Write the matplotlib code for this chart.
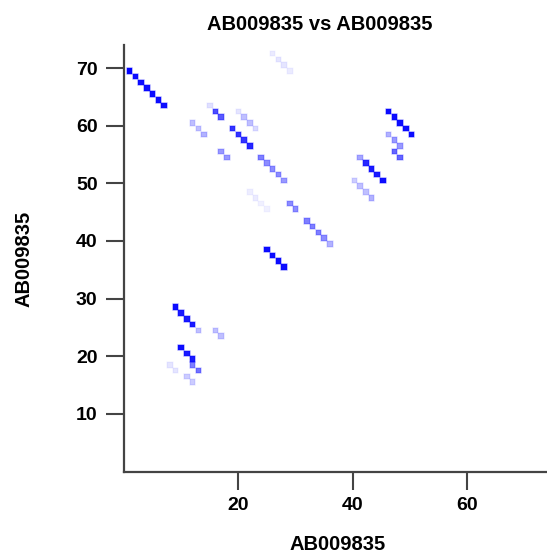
import matplotlib
matplotlib.use("Agg")
import matplotlib.pyplot as plt
import numpy as np

# Dot plot data: x position, y position, match intensity (0..1)
dot_x = [26, 27, 28, 29,
         1, 2, 3, 4, 5, 6, 7,
         15, 16, 17,
         20, 21, 22, 23,
         12, 13, 14,
         19, 20, 21, 22,
         17, 18,
         24, 25, 26, 27, 28,
         22, 23, 24, 25,
         29, 30,
         32, 33, 34, 35, 36,
         25, 26, 27, 28,
         9, 10, 11, 12, 13,
         16, 17,
         10, 11, 12, 12, 13,
         8, 9,
         11, 12,
         46.3, 47.3, 48.3, 49.3, 50.3,
         46.3, 47.3, 48.3,
         47.3, 48.3,
         41.3, 42.3, 43.3, 44.3, 45.3,
         40.3, 41.3, 42.3, 43.3]
dot_y = [72.5, 71.5, 70.5, 69.5,
         69.5, 68.5, 67.5, 66.5, 65.5, 64.5, 63.5,
         63.5, 62.5, 61.5,
         62.5, 61.5, 60.5, 59.5,
         60.5, 59.5, 58.5,
         59.5, 58.5, 57.5, 56.5,
         55.5, 54.5,
         54.5, 53.5, 52.5, 51.5, 50.5,
         48.5, 47.5, 46.5, 45.5,
         46.5, 45.5,
         43.5, 42.5, 41.5, 40.5, 39.5,
         38.5, 37.5, 36.5, 35.5,
         28.5, 27.5, 26.5, 25.5, 24.5,
         24.5, 23.5,
         21.5, 20.5, 19.5, 18.5, 17.5,
         18.5, 17.5,
         16.5, 15.5,
         62.5, 61.5, 60.5, 59.5, 58.5,
         58.5, 57.5, 56.5,
         55.5, 54.5,
         54.5, 53.5, 52.5, 51.5, 50.5,
         50.5, 49.5, 48.5, 47.5]
dot_score = [0.08, 0.1, 0.1, 0.08,
             1.0, 0.95, 0.95, 0.95, 0.95, 0.95, 0.95,
             0.12, 0.7, 0.65,
             0.1, 0.25, 0.25, 0.15,
             0.25, 0.25, 0.3,
             0.8, 0.8, 0.8, 0.85,
             0.4, 0.4,
             0.5, 0.45, 0.45, 0.45, 0.4,
             0.07, 0.08, 0.06, 0.06,
             0.45, 0.45,
             0.5, 0.5, 0.5, 0.45, 0.3,
             0.95, 0.95, 0.95, 0.95,
             0.95, 0.9, 0.9, 0.9, 0.25,
             0.25, 0.25,
             0.95, 0.9, 0.9, 0.5, 0.55,
             0.1, 0.1,
             0.2, 0.2,
             0.95, 0.95, 0.95, 0.95, 0.95,
             0.3, 0.4, 0.4,
             0.6, 0.6,
             0.35, 0.85, 0.9, 0.9, 0.95,
             0.2, 0.25, 0.25, 0.3]

x_ticks = [20, 40, 60]
y_ticks = [10, 20, 30, 40, 50, 60, 70]
title = "AB009835 vs AB009835"
x_label = "AB009835"
y_label = "AB009835"

plt.rcParams['font.family'] = ['Liberation Sans', 'DejaVu Sans']
plt.rcParams['font.weight'] = 'bold'

W, H = 547, 552
fig = plt.figure(figsize=(W / 100, H / 100), dpi=100)
ax = fig.add_axes([124 / W, (H - 471.5) / H, 423 / W, 426.5 / H])

colors = np.zeros((len(dot_x), 4))
colors[:, 2] = 1.0
colors[:, 3] = dot_score
ax.scatter(dot_x, dot_y, s=16, marker='s', c=colors, linewidths=1.2,
           edgecolors=[(0, 0, 1, a * 0.35) for a in dot_score])

ax.set_xlim(0, 74)
ax.set_ylim(0, 74)
ax.set_xticks(x_ticks)
ax.set_yticks(y_ticks)
for side in ['top', 'right']:
    ax.spines[side].set_visible(False)
for side in ['left', 'bottom']:
    ax.spines[side].set_color('#444444')
    ax.spines[side].set_linewidth(1.6)
ax.tick_params(axis='both', direction='out', length=13, width=1.5,
               color='#444444', labelsize=14)
ax.tick_params(axis='y', pad=6)
ax.tick_params(axis='x', pad=5)
for lbl in ax.get_xticklabels() + ax.get_yticklabels():
    lbl.set_fontweight('bold')

fig.text(320 / W, 1 - 25 / H, title, ha='center', va='center',
         fontsize=14.5, fontweight='bold')
fig.text(338 / W, 1 - 544 / H, x_label, ha='center', va='center',
         fontsize=14.5, fontweight='bold')
fig.text(24 / W, 1 - 259 / H, y_label, ha='center', va='center',
         rotation=90, fontsize=14.5, fontweight='bold')

fig.savefig('out.png', dpi=100)
